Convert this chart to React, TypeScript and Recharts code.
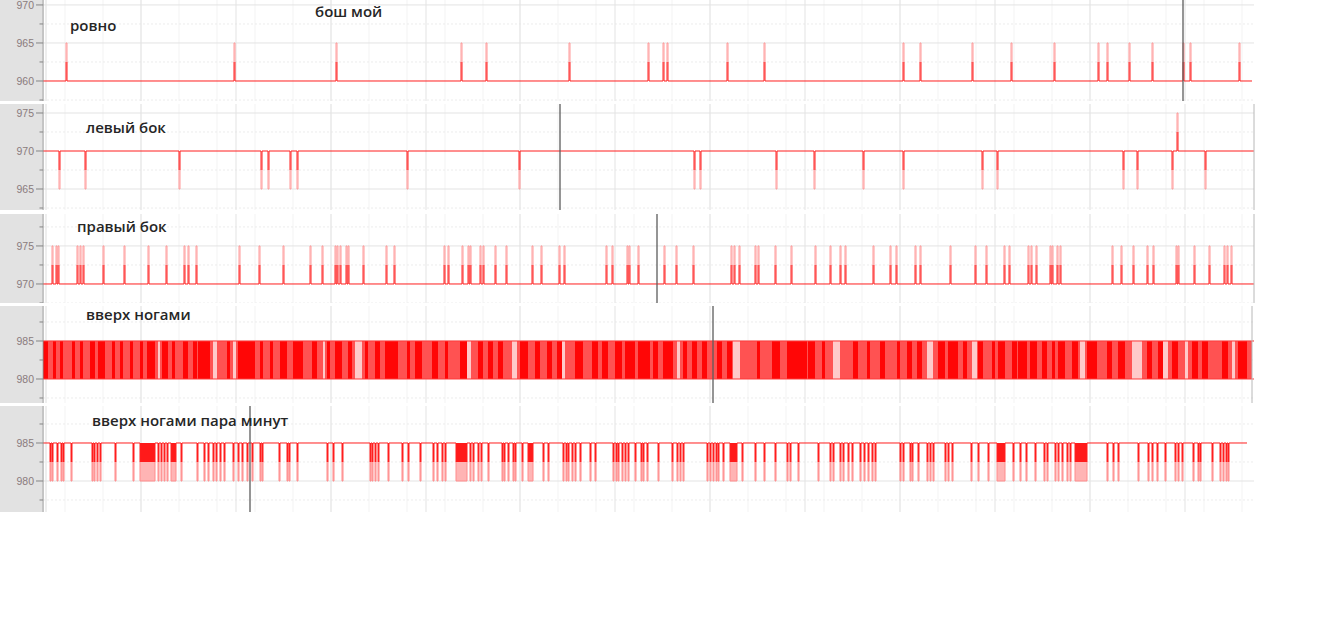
import React from 'react';
import { ComposedChart, Line, Area, XAxis, YAxis, CartesianGrid, ReferenceLine } from 'recharts';

// time axis in samples (one sample ~ one pixel of the capture)
const T_END = 1211;
const gridMajor = [3, 98, 193, 288, 383, 477, 572, 667, 762, 857, 952, 1047, 1142];
const gridMinor = gridMajor.flatMap((t) => [t, t + 19, t + 38, t + 57, t + 76]).filter((t) => t <= T_END);

const title = 'бош мой';
const panelLabels = ['ровно', 'левый бок', 'правый бок', 'вверх ногами', 'вверх ногами пара минут'];

// y ticks per panel (half steps get an unlabeled minor tick)
const ticksFlat = [957.5, 960, 962.5, 965, 967.5, 970];
const ticksLeft = [962.5, 965, 967.5, 970, 972.5, 975];
const ticksRight = [967.5, 970, 972.5, 975, 977.5];
const ticksUpside = [977.5, 980, 982.5, 985, 987.5];
const ticksUpsideLong = [977.5, 980, 982.5, 985, 987.5];

// resting level of each panel
const restLevel = [960, 970, 970, 980, 985];

// cursor position in each panel
const cursorAt = [1140, 517, 614, 670, 207];

// ровно: rests at 960, short jumps to 965
const flatSpikes = [23, 191, 293, 418, 443, 526, 605, 620, 624, 684, 721, 860, 877, 929, 968, 1011, 1055, 1064, 1086, 1109, 1140, 1147, 1196];

// левый бок: rests at 970, drops to 965, one jump to 975
const leftDips = [16, 42, 136, 218, 225, 247, 254, 364, 476, 651, 657, 733, 771, 820, 860, 939, 954, 1080, 1094, 1129, 1162];
const leftJumps = [1134];

// правый бок: rests at 970, jumps to 975
const rightSpikes = [
  9, 13, 15, 34, 37, 40, 60, 81, 105, 123, 141, 145, 153, 196, 216, 240, 267, 279, 292, 294, 297, 303, 305, 320, 343, 351,
  401, 405, 419, 425, 427, 437, 440, 452, 463, 489, 498, 516, 521, 563, 569, 584, 586, 595, 621, 633, 650, 688, 691, 696,
  712, 715, 732, 748, 772, 787, 797, 802, 830, 847, 853, 872, 877, 907, 932, 943, 961, 966, 985, 988, 993, 1007, 1009,
  1014, 1017, 1069, 1078, 1090, 1104, 1110, 1133, 1135, 1151, 1166, 1181, 1184, 1188,
];

// вверх ногами: toggles 980/985 almost constantly; [from, to] of the densest runs and of the few quiet gaps
const upsideSolid: [number, number][] = [
  [0, 5], [10, 13], [17, 20], [29, 32], [37, 40], [47, 52], [55, 62], [69, 72], [77, 80], [87, 90], [97, 100], [104, 112],
  [119, 125], [129, 132], [140, 145], [150, 154], [155, 167], [184, 187], [195, 212], [217, 220], [227, 230], [237, 244],
  [250, 260], [269, 274], [284, 287], [292, 299], [305, 309], [322, 325], [332, 337], [342, 355], [364, 367], [372, 379],
  [389, 395], [402, 405], [417, 424], [435, 440], [445, 450], [455, 460], [477, 485], [492, 497], [504, 509], [514, 519],
  [532, 540], [549, 555], [559, 565], [572, 579], [582, 592], [595, 600], [600, 607], [610, 615], [620, 630], [640, 644],
  [649, 654], [659, 664], [674, 679], [684, 689], [714, 717], [729, 737], [744, 764], [765, 772], [779, 782], [810, 815],
  [824, 827], [837, 842], [854, 857], [864, 869], [874, 879], [895, 902], [905, 915], [920, 924], [935, 940], [949, 952],
  [955, 962], [969, 974], [975, 984], [987, 994], [999, 1004], [1009, 1012], [1015, 1022], [1029, 1035], [1044, 1054],
  [1064, 1069], [1075, 1082], [1104, 1109], [1115, 1120], [1129, 1135], [1149, 1155], [1159, 1165], [1179, 1185], [1195, 1204],
];
const upsideGaps: [number, number][] = [
  [115, 117], [170, 174], [190, 193], [280, 282], [312, 319], [424, 428], [469, 474], [519, 522], [634, 637], [690, 697],
  [790, 797], [884, 890], [929, 934], [1037, 1042], [1089, 1099], [1120, 1125], [1142, 1145], [1189, 1192],
];
const upsideEnd = 1209;

// вверх ногами пара минут: rests at 985, drops to 980; a number is a single drop, a pair is [start, length]
const longDips: (number | [number, number])[] = [
  7, 9, 14, 18, 20, 28, 49, 51, 54, 57, 72, 90, [97, 15], 115, 118, 121, 124, [128, 5], 138, 154, 161, 165, 170, 173, 177,
  181, 190, 195, 199, 204, 209, 217, 219, 236, 244, 246, 254, 284, 290, 299, 327, 329, 332, 335, 345, 359, 365, 377, 390,
  394, 399, 402, [413, 11], 427, 430, 435, 438, 445, 459, 461, 465, 470, 472, 479, [485, 5], 500, 505, 520, 523, 525, 529,
  532, 537, 547, 552, 570, 573, 575, 579, 582, 585, 592, 598, 600, 604, 615, 629, 634, 637, 640, 664, 667, 670, 673, 675,
  680, [687, 7], 699, 712, 721, 732, 744, 747, 755, 775, 787, 790, 797, 800, 805, 809, 817, 821, 825, 829, 832, 857, 860,
  867, 869, 875, 884, 887, 890, 902, 905, 909, 928, 935, 945, [954, 8], 970, 977, 983, 992, 1001, 1004, 1012, 1015, 1019,
  1024, 1027, [1032, 12], 1064, 1070, 1075, 1095, 1105, 1109, 1114, 1122, 1132, 1135, 1139, 1150, 1155, 1157, 1169, 1177,
  1180, 1183, 1185,
];
const longEnd = 1204;

type Row = { t: number; v: number };

const stepRows = (events: [number, number][], base: number, end: number): Row[] => {
  const rows: Row[] = [{ t: 0, v: base }];
  [...events].sort((a, b) => a[0] - b[0]).forEach(([t, v]) => rows.push({ t, v }, { t: t + 1, v: base }));
  rows.push({ t: end, v: base });
  return rows;
};

const blockRows = (blocks: [number, number][], base: number, level: number, end: number): Row[] => {
  const rows: Row[] = [{ t: 0, v: base }];
  blocks.forEach(([a, b]) => rows.push({ t: a, v: level }, { t: b, v: base }));
  rows.push({ t: end, v: base });
  return rows;
};

const flatRows = stepRows(flatSpikes.map((t) => [t, 965] as [number, number]), 960, 1209);
const leftRows = stepRows(
  [...leftDips.map((t) => [t, 965] as [number, number]), ...leftJumps.map((t) => [t, 975] as [number, number])],
  970,
  T_END,
);
const rightRows = stepRows(rightSpikes.map((t) => [t, 975] as [number, number]), 970, T_END);
const upsideBase = blockRows([[0, upsideEnd]], 980, 985, upsideEnd);
const upsideGapRows = blockRows(upsideGaps, 980, 985, upsideEnd);
const upsideSolidRows = blockRows(upsideSolid, 980, 985, upsideEnd);
const longRows = blockRows(
  longDips.map((d) => (typeof d === 'number' ? [d, d + 1] : [d[0], d[0] + d[1]]) as [number, number]),
  985,
  980,
  longEnd,
);

const CHART_W = 1260;

const AxisTick = (props: any) => {
  const { x, y, payload } = props;
  const major = payload.value % 5 === 0;
  return (
    <g>
      <line x1={x - (major ? 7 : 3.5)} x2={x} y1={y} y2={y} stroke="#858585" />
      {major && (
        <text x={x - 9} y={y} dy={3.7} textAnchor="end" fontSize={10.5} fill="#8a7b7d" fontFamily="'Liberation Sans', Arial, sans-serif">
          {payload.value}
        </text>
      )}
    </g>
  );
};

function Panel({ top, height, domain, ticks, rest, cursor, border, children }: any) {
  // the resting level is drawn by the series itself, so its grid line is left out
  const majorY = ticks.filter((v: number) => v % 5 === 0 && v !== rest);
  const minorY = ticks.filter((v: number) => v % 5 !== 0);
  return (
    <div style={{ position: 'absolute', left: 0, top, width: CHART_W, height }}>
      <div style={{ position: 'absolute', left: 0, top: 0, width: 42, height, background: '#e2e2e2' }} />
      <div style={{ position: 'absolute', left: 0, top: 0 }}>
        <ComposedChart width={CHART_W} height={height} margin={{ top: 0, right: 6, bottom: 0, left: 0 }}>
          <CartesianGrid verticalValues={gridMinor} horizontal={false} stroke="#f3f3f3" />
          <CartesianGrid vertical={false} horizontalValues={minorY} stroke="#ececec" strokeDasharray="2 2" />
          <CartesianGrid verticalValues={gridMajor} horizontalValues={majorY} stroke="#e3e3e3" />
          <XAxis dataKey="t" type="number" domain={[0, T_END]} ticks={gridMajor} allowDataOverflow hide />
          <YAxis
            type="number"
            domain={domain}
            ticks={ticks}
            interval={0}
            allowDataOverflow
            width={43}
            tickSize={0}
            tickMargin={0}
            tickLine={false}
            axisLine={{ stroke: '#8a8a8a' }}
            tick={<AxisTick />}
          />
          {children}
          <ReferenceLine x={cursor} stroke="#5c5c5c" strokeWidth={1.3} />
          {border !== undefined && <ReferenceLine x={border} stroke="#b8b8b8" />}
        </ComposedChart>
      </div>
    </div>
  );
}

export default function App() {
  return (
    <div style={{ position: 'relative', width: 1320, height: 634, background: '#fff', overflow: 'hidden' }}>
      <style>{'body{margin:0}'}</style>
      <svg width={0} height={0} style={{ position: 'absolute' }}>
        <defs>
          <linearGradient id="gUp" x1="0" y1="0" x2="0" y2="1">
            <stop offset="0" stopColor="#ff9a9a" />
            <stop offset="0.5" stopColor="#ff9a9a" />
            <stop offset="0.5" stopColor="#ff1e1e" />
            <stop offset="1" stopColor="#ff1e1e" />
          </linearGradient>
          <linearGradient id="gMid" x1="0" y1="0" x2="0" y2="1">
            <stop offset="0" stopColor="#ff9a9a" />
            <stop offset="0.25" stopColor="#ff9a9a" />
            <stop offset="0.25" stopColor="#ff1e1e" />
            <stop offset="0.75" stopColor="#ff1e1e" />
            <stop offset="0.75" stopColor="#ff9a9a" />
            <stop offset="1" stopColor="#ff9a9a" />
          </linearGradient>
          <linearGradient id="gDownFill" x1="0" y1="0" x2="0" y2="1">
            <stop offset="0" stopColor="#ff1a1a" />
            <stop offset="0.5" stopColor="#ff1a1a" />
            <stop offset="0.5" stopColor="#ffb4b4" />
            <stop offset="1" stopColor="#ffb4b4" />
          </linearGradient>
          <linearGradient id="gDownStroke" x1="0" y1="0" x2="0" y2="1">
            <stop offset="0" stopColor="#ff1e1e" />
            <stop offset="0.5" stopColor="#ff1e1e" />
            <stop offset="0.5" stopColor="#ff8c8c" />
            <stop offset="1" stopColor="#ff8c8c" />
          </linearGradient>
        </defs>
      </svg>

      <Panel top={0} height={101} domain={[957.37, 970.65]} ticks={ticksFlat} rest={restLevel[0]} cursor={cursorAt[0]}>
        <Line data={flatRows} dataKey="v" type="stepAfter" stroke="url(#gUp)" strokeWidth={1} dot={false} activeDot={false} isAnimationActive={false} />
      </Panel>

      <Panel top={104} height={106} domain={[962.237, 976.184]} ticks={ticksLeft} rest={restLevel[1]} cursor={cursorAt[1]} border={T_END}>
        <Line data={leftRows} dataKey="v" type="stepAfter" stroke="url(#gMid)" strokeWidth={1} dot={false} activeDot={false} isAnimationActive={false} />
      </Panel>

      <Panel top={214} height={89} domain={[967.5, 979.2]} ticks={ticksRight} rest={restLevel[2]} cursor={cursorAt[2]} border={T_END}>
        <Line data={rightRows} dataKey="v" type="stepAfter" stroke="url(#gUp)" strokeWidth={1} dot={false} activeDot={false} isAnimationActive={false} />
      </Panel>

      <Panel top={306} height={97} domain={[976.842, 989.605]} ticks={ticksUpside} rest={restLevel[3]} cursor={cursorAt[3]} border={upsideEnd}>
        <Area data={upsideBase} dataKey="v" type="stepAfter" baseValue={980} stroke="none" fill="#ff5252" fillOpacity={1} dot={false} activeDot={false} isAnimationActive={false} />
        <Area data={upsideGapRows} dataKey="v" type="stepAfter" baseValue={980} stroke="none" fill="#ffcaca" fillOpacity={1} dot={false} activeDot={false} isAnimationActive={false} />
        <Area data={upsideSolidRows} dataKey="v" type="stepAfter" baseValue={980} stroke="none" fill="#ff0606" fillOpacity={1} dot={false} activeDot={false} isAnimationActive={false} />
        <ReferenceLine y={985} stroke="#ff3a3a" />
        <ReferenceLine y={980} stroke="#ff3a3a" />
      </Panel>

      <Panel top={406} height={106} domain={[975.921, 989.868]} ticks={ticksUpsideLong} rest={restLevel[4]} cursor={cursorAt[4]}>
        <Area data={longRows} dataKey="v" type="stepAfter" baseValue={985} stroke="url(#gDownStroke)" strokeWidth={1} fill="url(#gDownFill)" fillOpacity={1} dot={false} activeDot={false} isAnimationActive={false} />
      </Panel>

      <svg width={1320} height={634} style={{ position: 'absolute', left: 0, top: 0, pointerEvents: 'none' }}>
        <g fontFamily="'Open Sans', 'Noto Sans', sans-serif" fontWeight={600} fontSize={15} fill="#262626">
          <text x={315} y={17}>{title}</text>
          <text x={70} y={31}>{panelLabels[0]}</text>
          <text x={86} y={133}>{panelLabels[1]}</text>
          <text x={77} y={232}>{panelLabels[2]}</text>
          <text x={86} y={320}>{panelLabels[3]}</text>
          <text x={92} y={426}>{panelLabels[4]}</text>
        </g>
      </svg>
    </div>
  );
}
